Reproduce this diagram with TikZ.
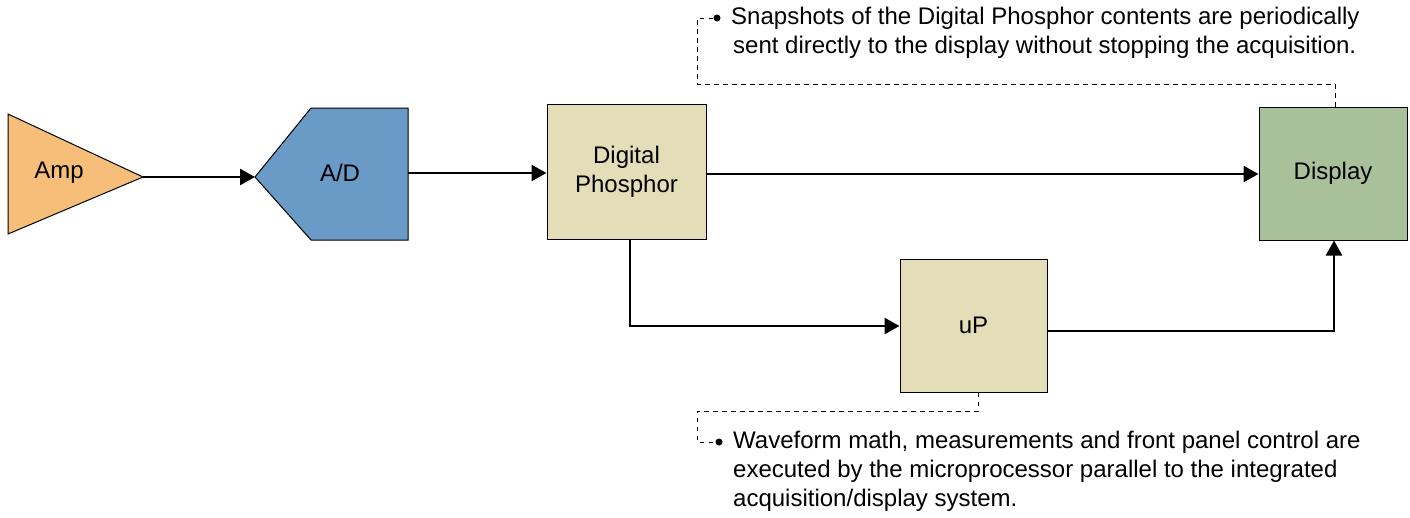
\documentclass[tikz,border=0pt]{standalone}
\usepackage{fontspec}
\setmainfont{Liberation Sans}
\usetikzlibrary{arrows.meta}
\definecolor{ampc}{HTML}{F7BE7A}
\definecolor{adc}{HTML}{6A9BC7}
\definecolor{dpc}{HTML}{E3DDB8}
\definecolor{dispc}{HTML}{A9C19A}
\tikzset{
  lbl/.style={font=\fontsize{24}{29}\selectfont, inner sep=0pt},
  blk/.style={draw=black, line width=1pt, minimum width=#1, inner sep=0pt},
  flow/.style={line width=2.5pt, -{Triangle[length=15pt,width=16pt]}},
  note/.style={line width=1pt, dash pattern=on 4.5pt off 4.5pt},
  notetext/.style={lbl, anchor=west, align=left},
}
\begin{document}
\begin{tikzpicture}[x=1pt,y=-1pt]
\useasboundingbox (0,0) rectangle (1410,517);
% Amp
\draw[fill=ampc, line width=1pt] (8,114) -- (143,177) -- (8,234) -- cycle;
\coordinate (amptip) at (143,177);
\node[lbl] (amp) at (59,173) {Amp};
% A/D
\draw[fill=adc, line width=1pt] (255,177) -- (311,108) -- (408,108) -- (408,240) -- (311,240) -- cycle;
\coordinate (adin) at (255,177);
\coordinate (adout) at (408,173);
\node[lbl] (ad) at (340,173) {A/D};
% boxes
\node[blk=159pt, minimum height=135pt, fill=dpc, lbl, align=center, draw, line width=1pt] (dp) at (626.5,171.5) {Digital\\Phosphor};
\node[blk=148pt, minimum height=133pt, fill=dispc, lbl, draw, line width=1pt] (disp) at (1333,173.5) {Display};
\node[blk=147pt, minimum height=133pt, fill=dpc, lbl, draw, line width=1pt] (up) at (973.5,325.5) {uP};
% flows
\draw[flow] (amptip) -- (adin);
\draw[flow] (adout) -- (dp.west |- adout);
\draw[flow] (dp.east |- 0,174) -- (disp.west |- 0,174);
\draw[flow] (dp.south -| 630,0) |- (up.west |- 0,326);
\draw[flow] (up.east |- 0,331) -| (disp.south -| 1334,0);
% notes
\node[notetext] (n1) at (731,32.5) {Snapshots of the Digital Phosphor contents are periodically\\\hspace{2pt}sent directly to the display without stopping the acquisition.};
\coordinate (d1) at (717,18);
\draw[note] (disp.north -| 1335,0) -- (1335,84) -- (697,84) -- (697,18) -- (d1);
\fill (d1) circle (3.5pt);
\node[notetext] (n2) at (733,471) {Waveform math, measurements and front panel control are\\executed by the microprocessor parallel to the integrated\\acquisition/display system.};
\coordinate (d2) at (719,442);
\draw[note] (up.south -| 978,0) -- (978,411) -- (697,411) -- (697,442) -- (d2);
\fill (d2) circle (3.5pt);
\end{tikzpicture}
\end{document}
